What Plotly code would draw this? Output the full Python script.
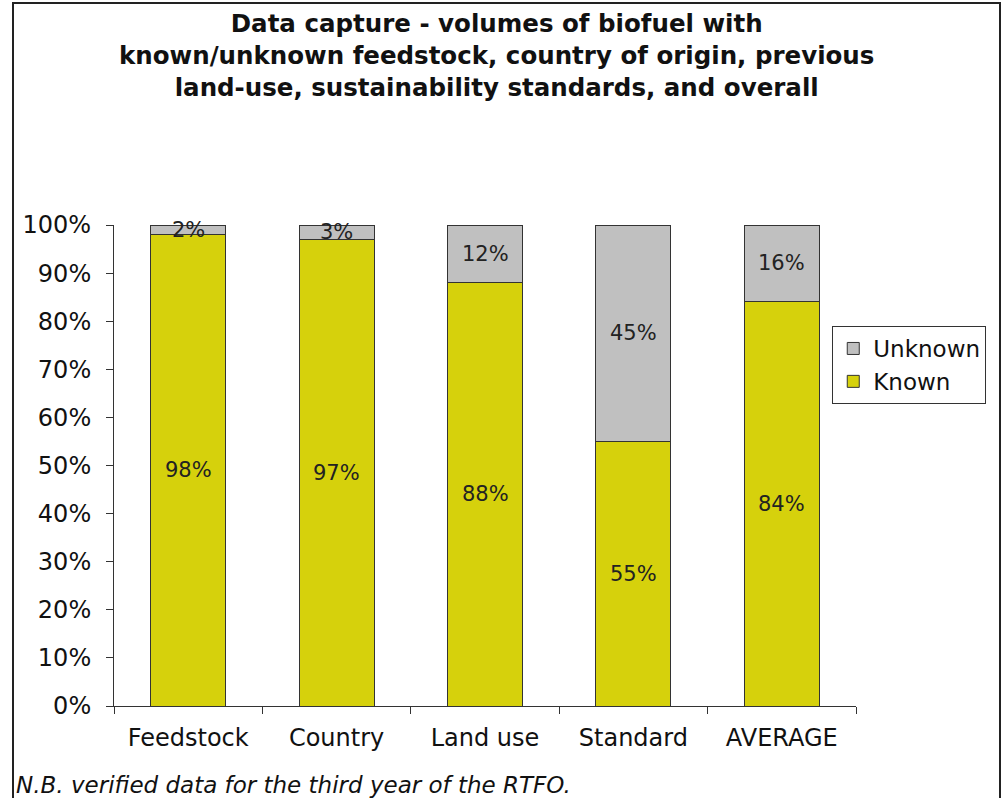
import plotly.graph_objects as go

categories = ["Feedstock", "Country", "Land use", "Standard", "AVERAGE"]
known = [98, 97, 88, 55, 84]
unknown = [2, 3, 12, 45, 16]
y_ticks = [0, 10, 20, 30, 40, 50, 60, 70, 80, 90, 100]
y_tick_labels = [f"{v}%" for v in y_ticks]

title_text = ("<b>Data capture - volumes of biofuel with<br>"
              "known/unknown feedstock, country of origin, previous<br>"
              "land-use, sustainability standards, and overall</b>")
footnote = "N.B. verified data for the third year of the RTFO."

FONT = "DejaVu Sans"
YELLOW = "#D6D10C"
GREY = "#C0C0C0"

fig = go.Figure()
fig.add_trace(go.Bar(
    x=categories, y=known, name="Known",
    marker=dict(color=YELLOW, line=dict(color="#333333", width=1)),
))
fig.add_trace(go.Bar(
    x=categories, y=unknown, name="Unknown",
    marker=dict(color=GREY, line=dict(color="#333333", width=1)),
))

annotations = []
for c, k, u in zip(categories, known, unknown):
    annotations.append(dict(x=c, y=k / 2, xref="x", yref="y", text=f"{k}%",
                            showarrow=False, font=dict(family=FONT, size=21, color="#222222")))
    annotations.append(dict(x=c, y=k + u / 2, xref="x", yref="y", text=f"{u}%",
                            showarrow=False, font=dict(family=FONT, size=21, color="#222222")))

# title
annotations.append(dict(x=(497 - 114) / 742, y=1, xref="paper", yref="paper",
                        xanchor="center", yanchor="top", yshift=225 - 7,
                        text=title_text, showarrow=False, align="center",
                        font=dict(family=FONT, size=24.5, color="#111111")))
# footnote
annotations.append(dict(x=0, y=0, xref="paper", yref="paper", xanchor="left", yanchor="middle",
                        xshift=-114 + 14, yshift=-79, text=f"<i>{footnote}</i>", showarrow=False,
                        font=dict(family=FONT, size=23, color="#111111")))

fig.update_layout(
    width=1002, height=798,
    barmode="stack", bargap=0.495,
    plot_bgcolor="white", paper_bgcolor="white",
    margin=dict(l=114, r=146, t=225, b=92),
    font=dict(family=FONT, color="#111111"),
    legend=dict(x=0.968, y=0.79, xanchor="left", yanchor="top",
                traceorder="reversed", bordercolor="#333333", borderwidth=1,
                font=dict(family=FONT, size=23, color="#111111"),
                bgcolor="white", itemwidth=30),
    annotations=annotations,
    shapes=[dict(type="rect", xref="paper", yref="paper",
                 x0=(13 - 114) / 742, x1=(1000 - 114) / 742,
                 y0=-0.3, y1=(706 - 3) / 481,
                 line=dict(color="#222222", width=2), layer="below")],
)
fig.update_xaxes(type="category", range=[-0.5, 4.5], showline=True, linecolor="#333333",
                 linewidth=1, ticks="outside", tickson="boundaries", ticklen=7,
                 tickcolor="#333333", showgrid=False, ticklabelstandoff=10,
                 tickfont=dict(family=FONT, size=24, color="#111111"))
fig.update_yaxes(range=[0, 100], tickvals=y_ticks, ticktext=y_tick_labels,
                 showline=True, linecolor="#333333", linewidth=1, ticks="outside",
                 ticklen=7, tickcolor="#333333", showgrid=False, zeroline=False,
                 ticklabelstandoff=10,
                 tickfont=dict(family=FONT, size=24, color="#111111"))

fig.write_html("out.html", config={"displayModeBar": False},
               post_script="document.body.style.margin='0';")
